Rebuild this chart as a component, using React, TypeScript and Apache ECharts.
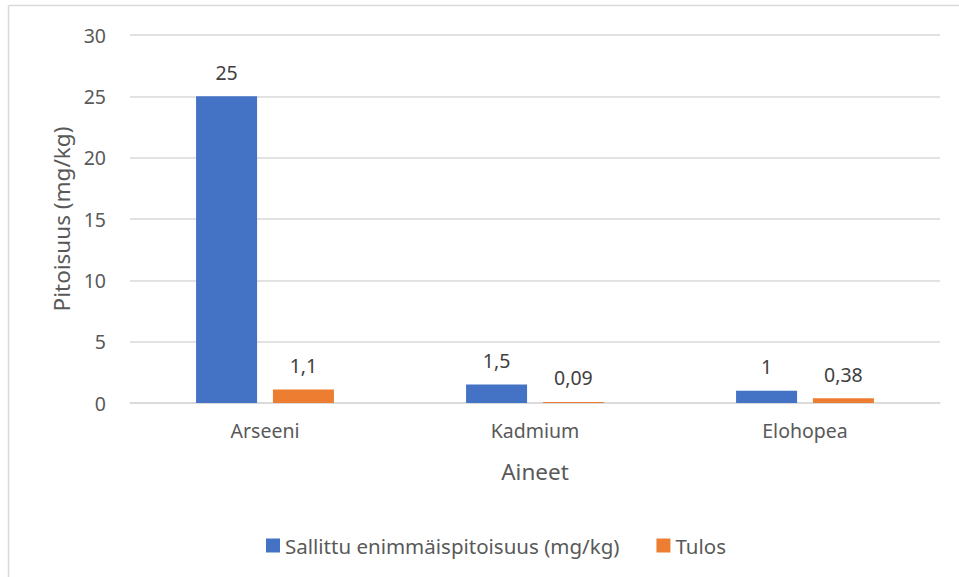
import React, { useEffect, useRef } from "react";
import * as echarts from "echarts";

const categories = ["Arseeni", "Kadmium", "Elohopea"];
const sallittuValues = [25, 1.5, 1];
const tulosValues = [1.1, 0.09, 0.38];
const seriesNames = ["Sallittu enimmäispitoisuus (mg/kg)", "Tulos"];
const yMin = 0;
const yMax = 30;
const yInterval = 5;

const FONT = "'Noto Sans', sans-serif";

export default function App() {
  const ref = useRef<HTMLDivElement>(null);
  useEffect(() => {
    if (!ref.current) return;
    const chart = echarts.init(ref.current, null, { renderer: "svg" });
    const fmt = (p: any) => String(p.value).replace(".", ",");
    chart.setOption({
      animation: false,
      backgroundColor: "#ffffff",
      textStyle: { fontFamily: FONT },
      grid: { left: 130, right: 19, top: 35, bottom: 174, containLabel: false },
      legend: {
        left: 261,
        top: 530,
        itemWidth: 14,
        itemHeight: 14,
        itemGap: 37,
        icon: "rect",
        textStyle: { fontFamily: FONT, fontSize: 20.5, color: "#595959" },
        data: seriesNames,
      },
      xAxis: {
        type: "category",
        data: categories,
        name: "Aineet",
        nameLocation: "middle",
        nameGap: 57,
        nameTextStyle: { fontFamily: FONT, fontSize: 22.5, color: "#595959" },
        axisLine: { show: true, lineStyle: { color: "#d9d9d9", width: 1.5 } },
        axisTick: { show: false },
        axisLabel: { margin: 17, fontFamily: FONT, fontSize: 19.5, color: "#595959" },
      },
      yAxis: {
        type: "value",
        min: yMin,
        max: yMax,
        interval: yInterval,
        name: "Pitoisuus (mg/kg)",
        nameLocation: "middle",
        nameGap: 57,
        nameTextStyle: { fontFamily: FONT, fontSize: 22.5, color: "#595959" },
        axisLine: { show: false },
        axisTick: { show: false },
        axisLabel: { margin: 24, fontFamily: FONT, fontSize: 19.5, color: "#595959" },
        splitLine: { show: true, lineStyle: { color: "#d9d9d9", width: 1.5 } },
      },
      series: [
        {
          name: seriesNames[0],
          type: "bar",
          data: sallittuValues,
          barWidth: 61,
          barGap: "26%",
          itemStyle: { color: "#4472C4" },
          label: {
            show: true,
            position: "top",
            distance: 14,
            formatter: fmt,
            fontFamily: FONT,
            fontSize: 19.5,
            color: "#404040",
          },
        },
        {
          name: seriesNames[1],
          type: "bar",
          data: tulosValues,
          barWidth: 61,
          itemStyle: { color: "#ED7D31" },
          label: {
            show: true,
            position: "top",
            distance: 14,
            formatter: fmt,
            fontFamily: FONT,
            fontSize: 19.5,
            color: "#404040",
          },
        },
      ],
      graphic: [
        {
          type: "line",
          shape: { x1: 8.5, y1: 5.5, x2: 959, y2: 5.5 },
          style: { stroke: "#d9d9d9", lineWidth: 1.5 },
          silent: true,
        },
        {
          type: "line",
          shape: { x1: 8.5, y1: 5.5, x2: 8.5, y2: 577 },
          style: { stroke: "#d9d9d9", lineWidth: 1.5 },
          silent: true,
        },
      ],
    });
    return () => chart.dispose();
  }, []);
  return (
    <div
      ref={ref}
      style={{ position: "fixed", left: 0, top: 0, width: 959, height: 577 }}
    />
  );
}
